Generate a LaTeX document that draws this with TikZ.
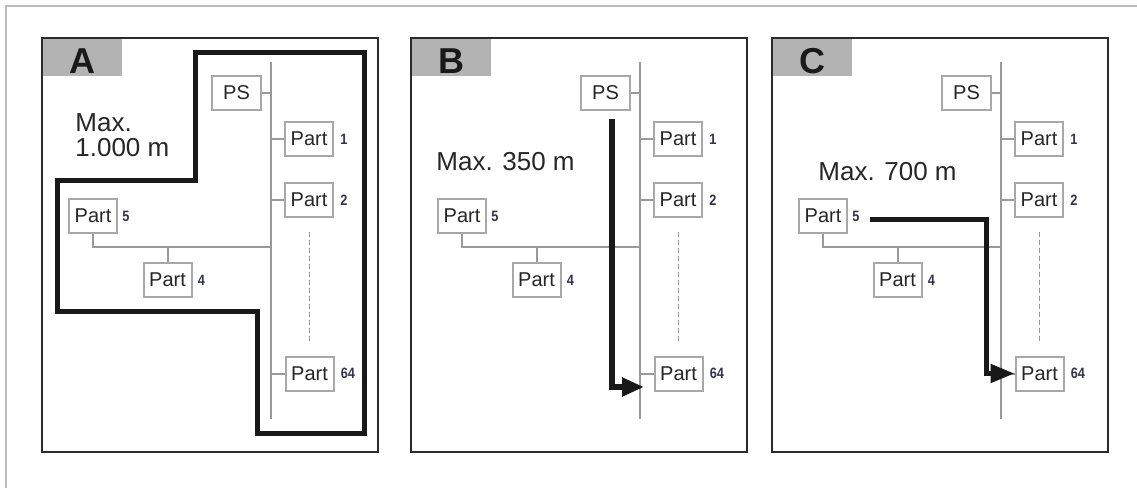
\documentclass[tikz,border=0pt]{standalone}
\usepackage{fontspec}
\setmainfont{Liberation Sans}
\newfontfamily\narrowfont[FakeStretch=0.85]{Liberation Sans}
\usepackage{xcolor}
\usepackage{tikz}
\usetikzlibrary{positioning,arrows.meta}

\definecolor{framegray}{HTML}{BBBBBB}
\definecolor{tabgray}{HTML}{B3B3B3}
\definecolor{boxgray}{HTML}{A8A8A8}
\definecolor{linegray}{HTML}{9A9A9A}
\definecolor{paneldark}{HTML}{2B2B2B}
\definecolor{numcolor}{HTML}{33334A}

\tikzset{
  outerframe/.style={draw=framegray, line width=1pt},
  panelframe/.style={draw=paneldark, line width=1pt},
  tabfill/.style={fill=tabgray},
  tabletter/.style={font=\fontsize{18}{18}\selectfont\bfseries, inner sep=0pt, text=black!90},
  partbox/.style={draw=boxgray, line width=1pt, fill=white, minimum width=24pt,
    minimum height=17pt, inner sep=0pt, font=\fontsize{10}{10}\selectfont, text=black!85},
  numlabel/.style={font=\narrowfont\fontsize{7.5}{8}\selectfont\bfseries, inner sep=0pt, text=numcolor},
  wire/.style={draw=linegray, line width=1pt},
  dashwire/.style={draw=linegray, line width=0.5pt, dash pattern=on 2.5pt off 1.5pt},
  maxtext/.style={font=\fontsize{13}{12.5}\selectfont, inner sep=0pt, text=black!85},
  route/.style={draw=black!90, line width=2.5pt}
}

% frame and grey tab of one panel
\newcommand{\drawpanel}[1]{%
  \fill[tabfill] (42,38) rectangle (122,76);
  \draw[panelframe] (42,38) rectangle (378,452);
  \node[tabletter, anchor=base] (tab) at (82,73) {#1};
}

% the bus with PS and the parts
\newcommand{\drawbus}{%
  \coordinate (bustop) at (271,62);
  \coordinate (busbot) at (271,419);
  \coordinate (joint) at (271,247);
  \draw[wire] (bustop) -- (busbot);
  \node[partbox, minimum width=24.5pt] (ps) at (236.5,93) {PS};
  \node[partbox] (p1) at (309,139) {Part};
  \node[partbox] (p2) at (309,200) {Part};
  \node[partbox] (p64) at (309.5,373.5) {Part};
  \node[partbox] (p5) at (93,216) {Part};
  \node[partbox] (p4) at (167.5,280) {Part};
  \node[numlabel, right=3pt of p1] (n1) {1};
  \node[numlabel, right=3pt of p2] (n2) {2};
  \node[numlabel, right=3pt of p64] (n64) {64};
  \node[numlabel, right=2pt of p5] (n5) {5};
  \node[numlabel, right=2.5pt of p4] (n4) {4};
  \draw[wire] (ps.east) -- (ps.east -| bustop);
  \draw[wire] (p1.west) -- (p1.west -| bustop);
  \draw[wire] (p2.west) -- (p2.west -| bustop);
  \draw[wire] (p64.west) -- (p64.west -| bustop);
  \draw[wire] (p5.south) |- (joint);
  \draw[wire] (p4.north) -- (p4.north |- joint);
  \draw[dashwire] (309,232) -- (309,343);
}

\begin{document}
\begin{tikzpicture}[x=0.5pt, y=-0.5pt]
\useasboundingbox (0,0) rectangle (1137,488);
\draw[outerframe] (6,488) -- (6,6) -- (1137,6);

% A
\begin{scope}[name prefix=a-]
  \drawpanel{A}
  \node[maxtext, anchor=north west, align=left] (max) at (75,113) {Max.\\1.000 m};
  \drawbus
  \draw[route] (195,52) -- (364,52) -- (364,433) -- (257,433) -- (257,311)
    -- (57,311) -- (57,180) -- (195,180) -- cycle;
\end{scope}

% B
\begin{scope}[shift={(369,0)}, name prefix=b-]
  \drawpanel{B}
  \node[maxtext, anchor=base west] (max) at (67,170) {Max. 350 m};
  \drawbus
  \coordinate (from) at (243,119);
  \coordinate (to) at (275,387);
  \draw[route, line width=3pt, -{Triangle[length=11pt,width=9pt]}] (from) |- (to);
\end{scope}

% C
\begin{scope}[shift={(730,0)}, name prefix=c-]
  \drawpanel{C}
  \node[maxtext, anchor=base west] (max) at (88,180) {Max. 700 m};
  \drawbus
  \coordinate (from) at (140,219);
  \draw[route, -{Triangle[length=12pt,width=9pt]}] (from) -| ([xshift=-14pt]p64.west) -- (p64.west);
\end{scope}
\end{tikzpicture}
\end{document}
